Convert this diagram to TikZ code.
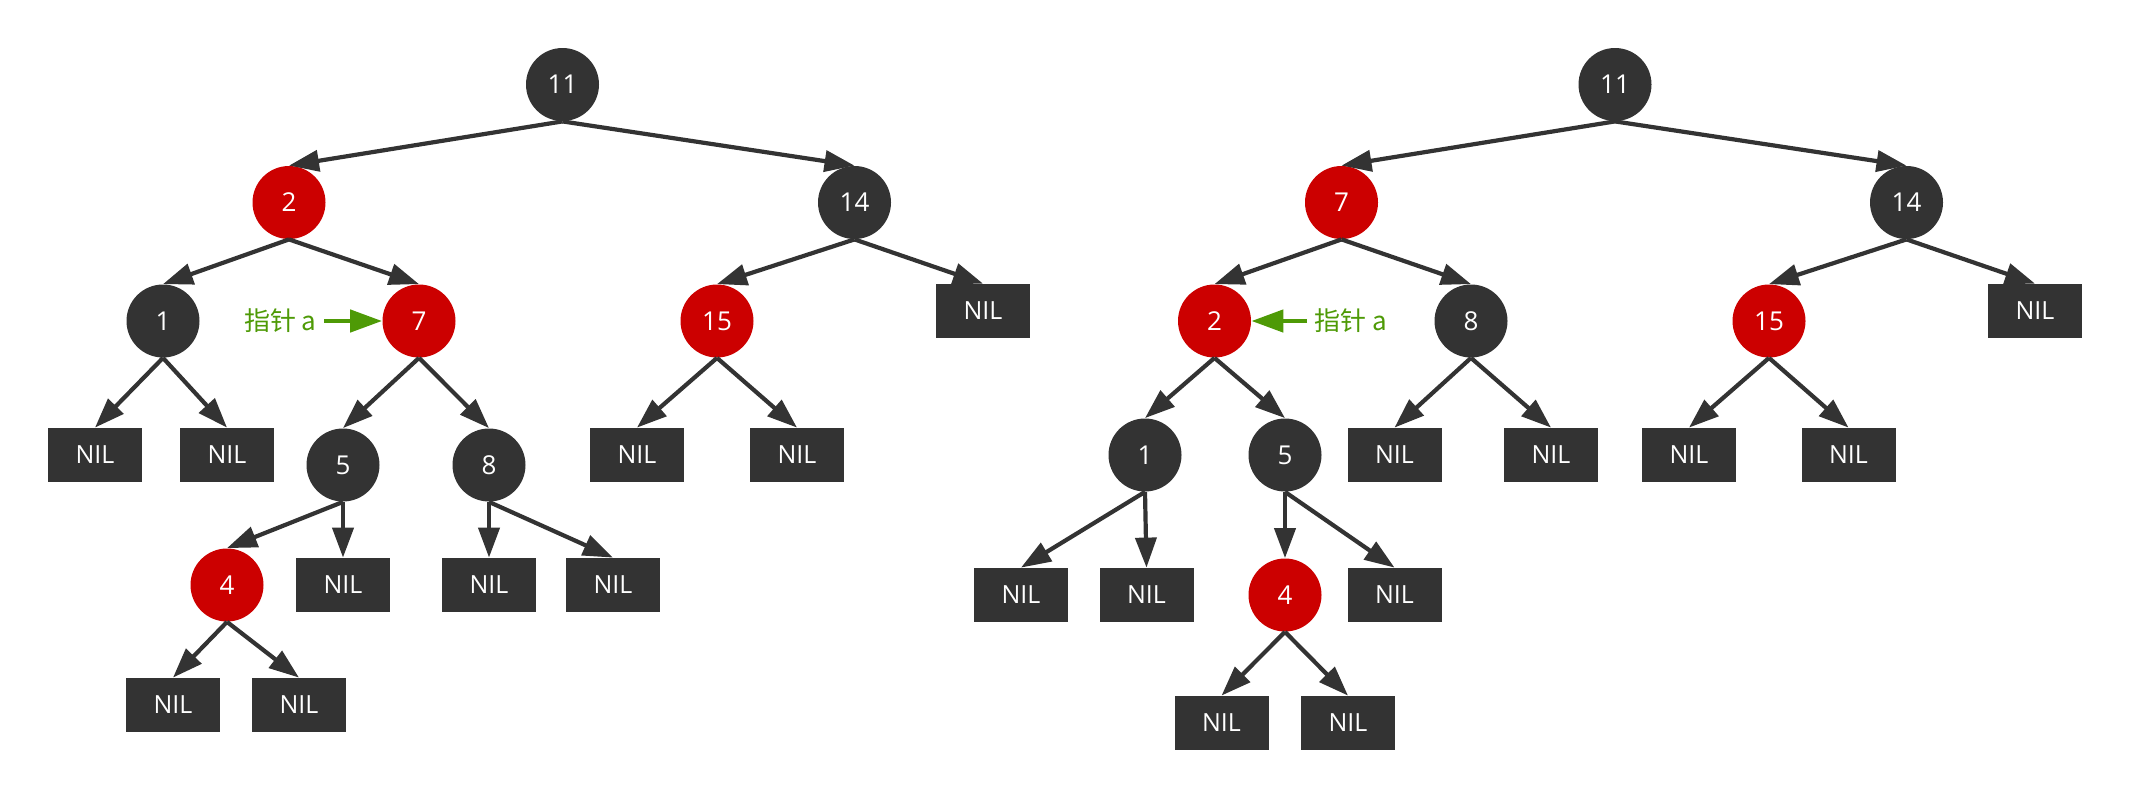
\documentclass[tikz,border=0pt]{standalone}
\usepackage{fontspec}
\setmainfont{Open Sans}
\newfontfamily\cjk{Noto Sans CJK SC}
\usetikzlibrary{arrows.meta}
\definecolor{nodegray}{HTML}{333333}
\definecolor{nodered}{HTML}{CC0000}
\definecolor{ptrgreen}{HTML}{4E9A06}
\begin{document}
\begin{tikzpicture}[x=0.5pt,y=-0.5pt,
  blk/.style={circle,fill=nodegray,text=white,minimum size=36.5pt,inner sep=0pt,font=\fontsize{13}{15}\selectfont},
  rnode/.style={blk,fill=nodered},
  nil/.style={rectangle,fill=nodegray,text=white,minimum width=47pt,minimum height=27pt,inner sep=0pt,font=\fontsize{12.5}{15}\selectfont},
  edge/.style={draw=nodegray,line width=2.1pt,-{Triangle[length=15pt,width=10.5pt]}},
  ptr/.style={draw=ptrgreen,line width=2.3pt,-{Triangle[length=16pt,width=11pt]}},
  ptrtext/.style={text=ptrgreen,inner sep=0pt,font=\fontsize{13}{15}\selectfont\cjk},
]
\useasboundingbox (0,0) rectangle (2130,798);
% ---------- left tree ----------
\node[blk]   (L11) at (562.5,84.5) {11};
\node[rnode] (L2)  at (289,202.5) {2};
\node[blk]   (L14) at (854.5,202.5) {14};
\node[blk]   (L1)  at (163,321) {1};
\node[rnode] (L7)  at (419,321) {7};
\node[rnode] (L15) at (717,321) {15};
\node[nil]   (LN14) at (983,311) {NIL};
\node[nil]   (LN1a) at (95,455) {NIL};
\node[nil]   (LN1b) at (227,455) {NIL};
\node[blk]   (L5)  at (343,465) {5};
\node[blk]   (L8)  at (489,465) {8};
\node[nil]   (LN15a) at (637,455) {NIL};
\node[nil]   (LN15b) at (797,455) {NIL};
\node[rnode] (L4)  at (227,585) {4};
\node[nil]   (LN5) at (343,585) {NIL};
\node[nil]   (LN8a) at (489,585) {NIL};
\node[nil]   (LN8b) at (613,585) {NIL};
\node[nil]   (LN4a) at (173,705) {NIL};
\node[nil]   (LN4b) at (299,705) {NIL};
\foreach \a/\b in {L11/L2,L11/L14,L2/L1,L2/L7,L14/L15,L14/LN14,L1/LN1a,L1/LN1b,
  L7/L5,L7/L8,L15/LN15a,L15/LN15b,L5/L4,L5/LN5,L8/LN8a,L8/LN8b,L4/LN4a,L4/LN4b}
  \draw[edge] (\a.south) -- (\b.north);
\node[ptrtext,anchor=east] (Lptr) at (317,321) {指针 a};
\coordinate (Lps) at (324,321);
\draw[ptr] (Lps) -- (L7.west);
% ---------- right tree ----------
\node[blk]   (R11) at (1615,84.5) {11};
\node[rnode] (R7)  at (1341.5,202.5) {7};
\node[blk]   (R14) at (1906.5,202.5) {14};
\node[rnode] (R2)  at (1214.5,321) {2};
\node[blk]   (R8)  at (1471,321) {8};
\node[rnode] (R15) at (1769,321) {15};
\node[nil]   (RN14) at (2035,311) {NIL};
\node[blk]   (R1)  at (1145,455) {1};
\node[blk]   (R5)  at (1285,455) {5};
\node[nil]   (RN8a) at (1394.5,455) {NIL};
\node[nil]   (RN8b) at (1551,455) {NIL};
\node[nil]   (RN15a) at (1689,455) {NIL};
\node[nil]   (RN15b) at (1848.5,455) {NIL};
\node[nil]   (RN1a) at (1021,595) {NIL};
\node[nil]   (RN1b) at (1146.5,595) {NIL};
\node[rnode] (R4)  at (1285,595) {4};
\node[nil]   (RN5) at (1394.5,595) {NIL};
\node[nil]   (RN4a) at (1221.5,723) {NIL};
\node[nil]   (RN4b) at (1348,723) {NIL};
\foreach \a/\b in {R11/R7,R11/R14,R7/R2,R7/R8,R14/R15,R14/RN14,R2/R1,R2/R5,
  R8/RN8a,R8/RN8b,R15/RN15a,R15/RN15b,R1/RN1a,R1/RN1b,R5/R4,R5/RN5,R4/RN4a,R4/RN4b}
  \draw[edge] (\a.south) -- (\b.north);
\node[ptrtext,anchor=west] (Rptr) at (1314,321) {指针 a};
\coordinate (Rps) at (1307,321);
\draw[ptr] (Rps) -- (R2.east);
\end{tikzpicture}
\end{document}
